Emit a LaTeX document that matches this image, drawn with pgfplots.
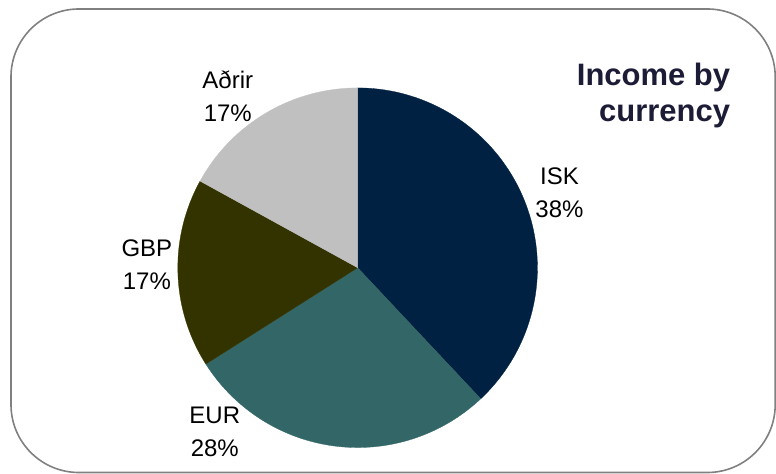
\documentclass[border=0pt]{standalone}
\usepackage{pgfplots}
\pgfplotsset{compat=1.18}
\usepackage{fontspec}
\setmainfont{Liberation Sans}

\definecolor{isk}{HTML}{002142}
\definecolor{eur}{HTML}{336666}
\definecolor{gbp}{HTML}{333300}
\definecolor{adr}{HTML}{C0C0C0}
\definecolor{ttl}{HTML}{1C1C36}
\definecolor{frame}{HTML}{808080}

% start share, share, colour -- pie centred at (358,206), radius 180, clockwise from top
\newcommand{\pieslice}[3]{%
  \addplot[fill=#3, draw=#3, line width=0.3pt, domain=90-3.6*(#1+#2):90-3.6*(#1), samples=80]
    ({358+180*cos(x)}, {206+180*sin(x)}) -- (axis cs:358,206) -- cycle;}

\begin{document}
\begin{tikzpicture}
\begin{axis}[
  scale only axis, width=776bp, height=474bp,
  xmin=0, xmax=776, ymin=0, ymax=474,
  hide axis, clip=false,
]
\path (axis cs:0,0) rectangle (axis cs:776,474);
\draw[frame, line width=1.6bp, rounded corners=68bp] (axis cs:11,465) rectangle (axis cs:776,1);

\pieslice{0}{38}{isk}
\pieslice{38}{28}{eur}
\pieslice{66}{17}{gbp}
\pieslice{83}{17}{adr}

\begin{scope}[every node/.style={align=center, font=\fontsize{24bp}{33bp}\selectfont}]
\node at (axis cs:560,281) {ISK\\38\%};
\node at (axis cs:215,42) {EUR\\28\%};
\node at (axis cs:147,209) {GBP\\17\%};
\node at (axis cs:228,378) {Aðrir\\17\%};
\end{scope}
\node[anchor=east, align=right, text=ttl, inner sep=0pt, font=\fontsize{31bp}{36bp}\selectfont\bfseries]
  at (axis cs:731,378) {Income by\\currency};
\end{axis}
\end{tikzpicture}
\end{document}
